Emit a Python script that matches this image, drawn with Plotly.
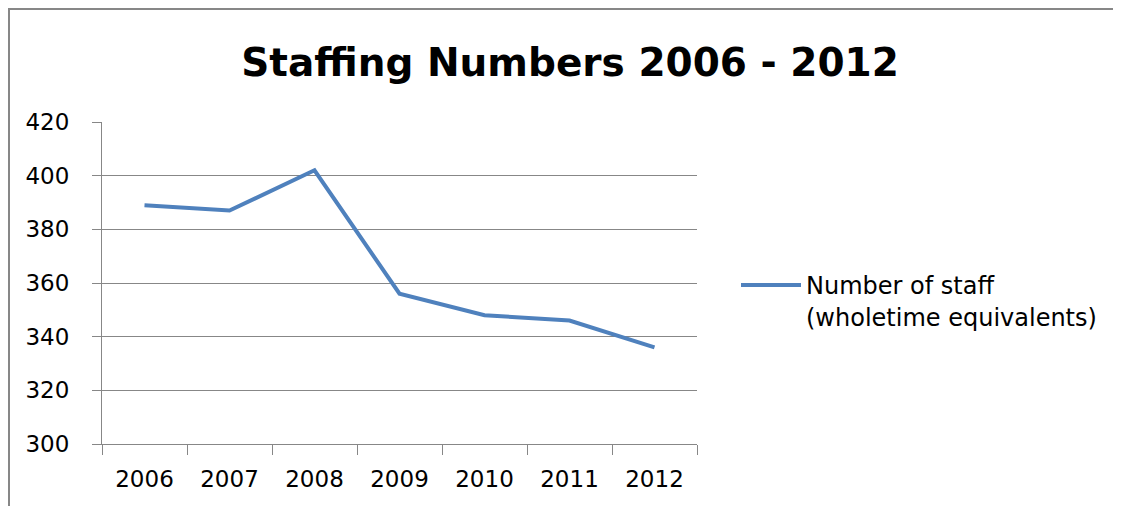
import plotly.graph_objects as go

years = ["2006", "2007", "2008", "2009", "2010", "2011", "2012"]
staff = [389, 387, 402, 356, 348, 346, 336]
series_name = "Number of staff<br>(wholetime equivalents)"
title_text = "Staffing Numbers 2006 - 2012"
y_ticks = [300, 320, 340, 360, 380, 400, 420]

W, H = 1121, 506
OFF = 8  # page body margin
L, R, T, B = 102 - OFF, 697 - OFF, 122 - OFF, 444 - OFF

fig = go.Figure()
fig.add_trace(go.Scatter(
    x=years, y=staff, mode="lines", name=series_name,
    line=dict(color="#4F81BD", width=4),
))

def px_x(p):
    return (p - OFF - L) / (R - L)

def px_y(p):
    return (B - (p - OFF)) / (B - T)

fig.add_shape(type="rect", xref="paper", yref="paper",
              x0=px_x(9), x1=px_x(1140), y0=px_y(9), y1=px_y(530),
              line=dict(color="#878787", width=2), fillcolor="rgba(0,0,0,0)", layer="below")

font_fam = "DejaVu Sans"

fig.update_layout(
    width=W, height=H,
    margin=dict(l=L, r=W - R, t=T, b=H - B),
    paper_bgcolor="white", plot_bgcolor="white",
    title=dict(text="<b>" + title_text + "</b>", x=(570 - OFF) / W, xanchor="center",
               y=1 - (62 - OFF) / H, yanchor="middle",
               font=dict(family=font_fam, size=39, color="black")),
    showlegend=True,
    legend=dict(x=px_x(736), y=px_y(263), xanchor="left", yanchor="top", valign="top",
                font=dict(family=font_fam, size=24, color="black"),
                bgcolor="rgba(0,0,0,0)", itemwidth=60),
    xaxis=dict(type="category", range=[-0.5, 6.5], showgrid=False, showline=True,
               linecolor="#878787", linewidth=1, ticks="outside", tickson="boundaries",
               ticklen=10, tickcolor="#878787", ticklabelstandoff=14,
               tickfont=dict(family=font_fam, size=23, color="black")),
    yaxis=dict(range=[300, 420], tickvals=y_ticks, showgrid=True, gridcolor="#878787",
               gridwidth=1, showline=True, linecolor="#878787", ticks="outside",
               ticklen=9, tickcolor="#878787", zeroline=False, ticklabelstandoff=18,
               tickfont=dict(family=font_fam, size=23, color="black")),
)

fig.write_html("out.html")
